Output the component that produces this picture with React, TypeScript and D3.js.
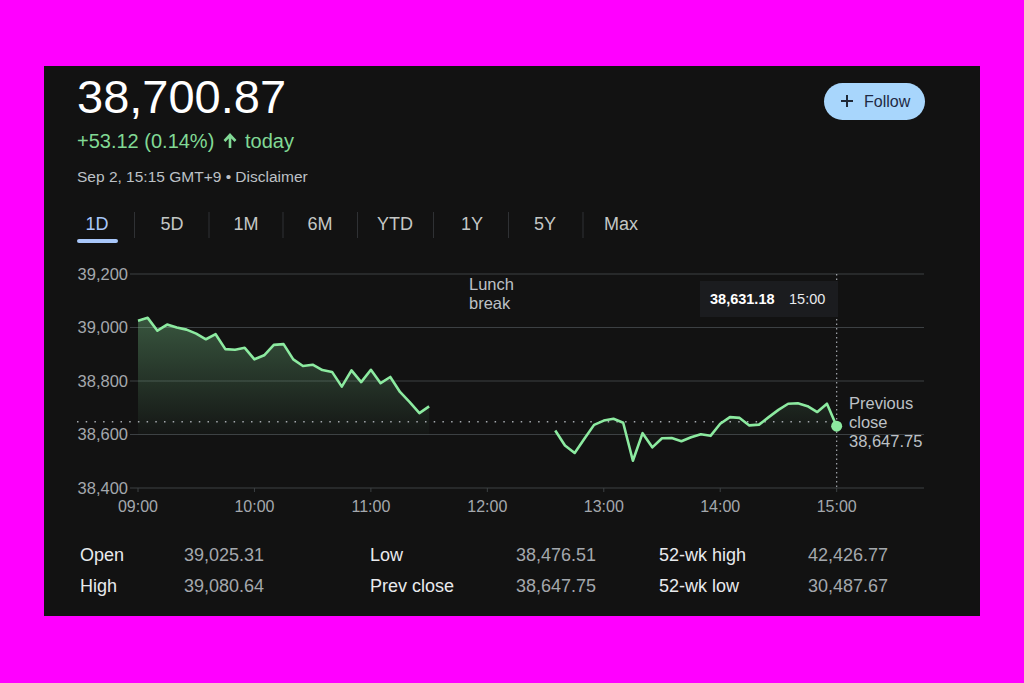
import React from "react";
import * as d3 from "d3";

const morningTimes = ["09:00","09:05","09:10","09:15","09:20","09:25","09:30","09:35","09:40","09:45","09:50","09:55","10:00","10:05","10:10","10:15","10:20","10:25","10:30","10:35","10:40","10:45","10:50","10:55","11:00","11:05","11:10","11:15","11:20","11:25","11:30"];
const morningValues = [39025.31,39036,38988,39011,39000,38992,38977,38956,38975,38919,38917,38924,38881,38896,38935,38938,38881,38856,38861,38841,38834,38779,38840,38796,38842,38792,38815,38759,38721,38680,38705];
const afternoonTimes = ["12:35","12:40","12:45","12:50","12:55","13:00","13:05","13:10","13:15","13:20","13:25","13:30","13:35","13:40","13:45","13:50","13:55","14:00","14:05","14:10","14:15","14:20","14:25","14:30","14:35","14:40","14:45","14:50","14:55","15:00"];
const afternoonValues = [38615,38559,38531,38584,38636,38652,38659,38644,38502,38605,38552,38586,38587,38575,38590,38601,38595,38640,38665,38662,38634,38637,38665,38692,38715,38717,38706,38684,38715,38631.18];

const yTicks = [38400, 38600, 38800, 39000, 39200];
const xTickLabels = ["09:00","10:00","11:00","12:00","13:00","14:00","15:00"];
const prevClose = 38647.75;
const tabs = ["1D","5D","1M","6M","YTD","1Y","5Y","Max"];
const statLabels = [["Open","High"],["Low","Prev close"],["52-wk high","52-wk low"]];
const statValues = [["39,025.31","39,080.64"],["38,476.51","38,647.75"],["42,426.77","30,487.67"]];

const toMin = (t: string) => { const [h, m] = t.split(":").map(Number); return (h - 9) * 60 + m; };

const FONT = "'Liberation Sans', Arial, sans-serif";
const GREEN = "#8ceaa0";
const TEXTGREEN = "#81d995";
const GREY = "#a4a8ad";

export default function App() {
  const x = d3.scaleLinear().domain([0, 405]).range([138, 924]);
  const y = d3.scaleLinear().domain([38400, 39200]).range([488, 274]);
  const morning = morningTimes.map((t, i) => ({ t: toMin(t), v: morningValues[i] }));
  const afternoon = afternoonTimes.map((t, i) => ({ t: toMin(t), v: afternoonValues[i] }));
  const line = d3.line<{ t: number; v: number }>().x(d => x(d.t)).y(d => y(d.v));
  const area = d3.area<{ t: number; v: number }>().x(d => x(d.t)).y0(y(38600)).y1(d => y(d.v));
  const last = afternoon[afternoon.length - 1];
  const tabX = [97, 172, 246, 320, 395, 472, 545, 621];
  const statColX = [[80, 184], [370, 516], [659, 808]];
  const rowY = [561, 592];

  return (
    <svg width={1024} height={683} style={{ position: "absolute", left: 0, top: 0 }} fontFamily={FONT}>
      <defs>
        <linearGradient id="fillg" gradientUnits="userSpaceOnUse" x1={0} y1={y(39050)} x2={0} y2={y(38600)}>
          <stop offset="0" stopColor={GREEN} stopOpacity={0.32} />
          <stop offset="1" stopColor={GREEN} stopOpacity={0.02} />
        </linearGradient>
      </defs>
      <rect x={0} y={0} width={1024} height={683} fill="#ff00ff" />
      <rect x={44} y={66} width={936} height={550} fill="#121212" />

      <text x={77} y={113} fontSize={47} fill="#ffffff">38,700.87</text>
      <text x={77} y={148} fontSize={20} fill={TEXTGREEN}>+53.12 (0.14%)</text>
      <path d="M230,148 L230,136 M224.5,141 L230,135 L235.5,141" stroke={TEXTGREEN} strokeWidth={2.6} fill="none" />
      <text x={245} y={148} fontSize={20} fill={TEXTGREEN}>today</text>
      <text x={77} y={182} fontSize={15.5} fill="#bdc1c6">Sep 2, 15:15 GMT+9 • Disclaimer</text>

      <rect x={824} y={83} width={101} height={37} rx={18.5} fill="#a8d6fc" />
      <path d="M847,95 L847,107 M841,101 L853,101" stroke="#1f2937" strokeWidth={2} />
      <text x={864} y={107} fontSize={16} fill="#1f2a44">Follow</text>

      {tabs.map((t, i) => (
        <text key={t} x={tabX[i]} y={230} fontSize={18} textAnchor="middle" fill={i === 0 ? "#a8c7fa" : "#c4c7c5"}>{t}</text>
      ))}
      {tabs.slice(1).map((t, i) => {
        const sx = (tabX[i] + tabX[i + 1]) / 2;
        return <line key={"s" + t} x1={sx} x2={sx} y1={212} y2={238} stroke="#2f3134" strokeWidth={1} />;
      })}
      <rect x={77} y={239} width={41} height={4} rx={2} fill="#a8c7fa" />

      {yTicks.map(v => (
        <g key={v}>
          <line x1={130} x2={924} y1={y(v)} y2={y(v)} stroke="#3c4043" strokeWidth={1} />
          <text x={128} y={y(v) + 5.5} fontSize={16.5} textAnchor="end" fill={GREY}>{d3.format(",")(v)}</text>
        </g>
      ))}
      {xTickLabels.map(t => (
        <g key={t}>
          <line x1={x(toMin(t))} x2={x(toMin(t))} y1={488} y2={492} stroke="#3c4043" />
          <text x={x(toMin(t))} y={512} fontSize={16} textAnchor="middle" fill={GREY}>{t}</text>
        </g>
      ))}

      <path d={area(morning) || ""} fill="url(#fillg)" />
      <path d={area(afternoon) || ""} fill="url(#fillg)" />
      <line x1={77} x2={835} y1={y(prevClose)} y2={y(prevClose)} stroke={GREY} strokeWidth={1.5} strokeDasharray="1.5,7.2" />
      <line x1={x(last.t)} x2={x(last.t)} y1={274} y2={488} stroke={GREY} strokeWidth={1.2} strokeDasharray="1.5,3" />
      <path d={line(morning) || ""} fill="none" stroke={GREEN} strokeWidth={2.6} strokeLinejoin="round" />
      <path d={line(afternoon) || ""} fill="none" stroke={GREEN} strokeWidth={2.6} strokeLinejoin="round" />
      <circle cx={x(last.t)} cy={y(last.v)} r={5.5} fill={GREEN} />

      <text x={469} y={290} fontSize={16.5} fill="#bdc1c6">Lunch</text>
      <text x={469} y={309} fontSize={16.5} fill="#bdc1c6">break</text>

      <rect x={700} y={281} width={138} height={36} fill="#1b1c1f" />
      <text x={710} y={304} fontSize={14.5} fontWeight="bold" fill="#ffffff">38,631.18</text>
      <text x={789} y={304} fontSize={14.5} fill="#e8eaed">15:00</text>

      <text x={849} y={409} fontSize={16.5} fill="#bdc1c6">Previous</text>
      <text x={849} y={428} fontSize={16.5} fill="#bdc1c6">close</text>
      <text x={849} y={447} fontSize={16.5} fill="#bdc1c6">38,647.75</text>

      {statLabels.map((col, c) => col.map((lab, r) => (
        <g key={lab}>
          <text x={statColX[c][0]} y={rowY[r]} fontSize={18} fill="#e8eaed">{lab}</text>
          <text x={statColX[c][1]} y={rowY[r]} fontSize={18} fill={GREY}>{statValues[c][r]}</text>
        </g>
      )))}
    </svg>
  );
}
